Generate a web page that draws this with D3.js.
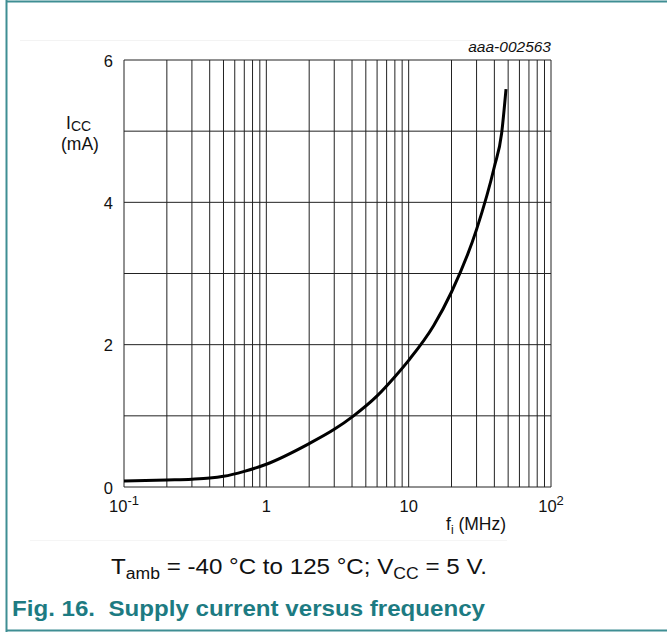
<!DOCTYPE html>
<html>
<head>
<meta charset="utf-8">
<title>Supply current versus frequency</title>
<script src="https://cdn.jsdelivr.net/npm/d3@7"></script>
<style>
  body { margin: 0; background: #fff; }
  svg { display: block; font-family: "Liberation Sans", Arial, sans-serif; }
</style>
</head>
<body>
<div id="chart"></div>
<script>
// curve (f in MHz, Icc in mA)
var freq = [0.1, 0.2, 0.3, 0.4, 0.5, 0.7, 1, 2, 3, 4.1, 6, 8, 10, 15, 20, 30, 40, 45, 48.3];
var icc  = [0.085, 0.1, 0.11, 0.125, 0.15, 0.22, 0.32, 0.61, 0.81, 1.0, 1.28, 1.55, 1.78, 2.27, 2.74, 3.62, 4.5, 4.97, 5.59];
var yTicks = [0, 2, 4, 6];
var yGrid = [0, 1, 2, 3, 4, 5, 6];
var xTicks = [0.1, 1, 10, 100];
var xTickBase = ["10", "1", "10", "10"];
var xTickExp = ["-1", "", "", "2"];

var W = 667, H = 632;
var teal = "#3f8e93";
var margin = {top: 60, right: 116, bottom: 145, left: 124};

var svg = d3.select("#chart").append("svg")
    .attr("width", W).attr("height", H);

// page frame
svg.append("line").attr("x1", 6).attr("x2", W).attr("y1", 1.5).attr("y2", 1.5)
    .attr("stroke", teal).attr("stroke-width", 2);
svg.append("line").attr("x1", 6.5).attr("x2", 6.5).attr("y1", 0).attr("y2", H)
    .attr("stroke", teal).attr("stroke-width", 2);
svg.append("line").attr("x1", 6).attr("x2", W).attr("y1", 630.5).attr("y2", 630.5)
    .attr("stroke", teal).attr("stroke-width", 2);
// faint separators
svg.append("line").attr("x1", 20).attr("x2", 507).attr("y1", 40.5).attr("y2", 40.5)
    .attr("stroke", "#f3f3f3");
svg.append("line").attr("x1", 30).attr("x2", 507).attr("y1", 540.5).attr("y2", 540.5)
    .attr("stroke", "#f5f5f5");

var x = d3.scaleLog().domain([0.1, 100]).range([margin.left, W - margin.right]);
var y = d3.scaleLinear().domain([0, 6]).range([H - margin.bottom, margin.top]);

// vertical grid: 1..9 in each decade
var vLines = [];
[0.1, 1, 10].forEach(function(d) {
  for (var k = 1; k < 10; k++) vLines.push(d * k);
});
vLines.push(100);

var grid = svg.append("g");
grid.selectAll(".v").data(vLines).enter().append("line")
    .attr("class", "v")
    .attr("x1", d => x(d)).attr("x2", d => x(d))
    .attr("y1", y(0)).attr("y2", y(6))
    .attr("stroke", "#222").attr("stroke-width", 1);
grid.selectAll(".h").data(yGrid).enter().append("line")
    .attr("class", "h")
    .attr("x1", x(0.1)).attr("x2", x(100))
    .attr("y1", d => y(d)).attr("y2", d => y(d))
    .attr("stroke", "#222").attr("stroke-width", 1);

// y tick labels
svg.selectAll(".yt").data(yTicks).enter().append("text")
    .attr("x", 113).attr("y", d => y(d) + 6.5)
    .attr("text-anchor", "end").attr("font-size", 16.5).attr("fill", "#111")
    .text(d => d);

// x tick labels
var xt = svg.selectAll(".xt").data(xTicks).enter().append("text")
    .attr("x", d => x(d)).attr("y", 512)
    .attr("text-anchor", "middle").attr("font-size", 16.5).attr("fill", "#111");
xt.append("tspan").text((d, i) => xTickBase[i]);
xt.append("tspan").attr("dy", -7).attr("font-size", 13).text((d, i) => xTickExp[i]);

// axis titles
var yt = svg.append("text").attr("x", 66).attr("y", 129).attr("font-size", 17.5).attr("fill", "#111");
yt.append("tspan").text("I");
yt.append("tspan").attr("dy", 2).attr("font-size", 14).text("CC");
svg.append("text").attr("x", 61).attr("y", 150).attr("font-size", 17.5).attr("fill", "#111").text("(mA)");

var xtl = svg.append("text").attr("x", 446).attr("y", 530).attr("font-size", 17.5).attr("fill", "#111");
xtl.append("tspan").text("f");
xtl.append("tspan").attr("dy", 4).attr("font-size", 12).text("i");
xtl.append("tspan").attr("dy", -4).text(" (MHz)");

svg.append("text").attr("x", x(100)).attr("y", 52)
    .attr("text-anchor", "end").attr("font-size", 15.5).attr("font-style", "italic")
    .attr("fill", "#111").text("aaa-002563");

// curve
var pts = freq.map((f, i) => [f, icc[i]]);
svg.append("path").datum(pts)
    .attr("fill", "none").attr("stroke", "#000").attr("stroke-width", 3)
    .attr("stroke-linecap", "butt")
    .attr("d", d3.line().x(d => x(d[0])).y(d => y(d[1])).curve(d3.curveMonotoneX));

// conditions caption
var cap = svg.append("text").attr("x", 111).attr("y", 574).attr("font-size", 22).attr("fill", "#111")
    .attr("textLength", 376).attr("lengthAdjust", "spacingAndGlyphs");
cap.append("tspan").text("T");
cap.append("tspan").attr("dy", 5).attr("font-size", 16).text("amb");
cap.append("tspan").attr("dy", -5).text(" = -40 °C to 125 °C; V");
cap.append("tspan").attr("dy", 5).attr("font-size", 16).text("CC");
cap.append("tspan").attr("dy", -5).text(" = 5 V.");

// figure title
svg.append("text").attr("x", 12).attr("y", 616)
    .attr("font-size", 22).attr("font-weight", "bold").attr("fill", "#1d7b82")
    .attr("textLength", 473).attr("lengthAdjust", "spacingAndGlyphs")
    .style("white-space", "pre")
    .text("Fig. 16.  Supply current versus frequency");
</script>
</body>
</html>
